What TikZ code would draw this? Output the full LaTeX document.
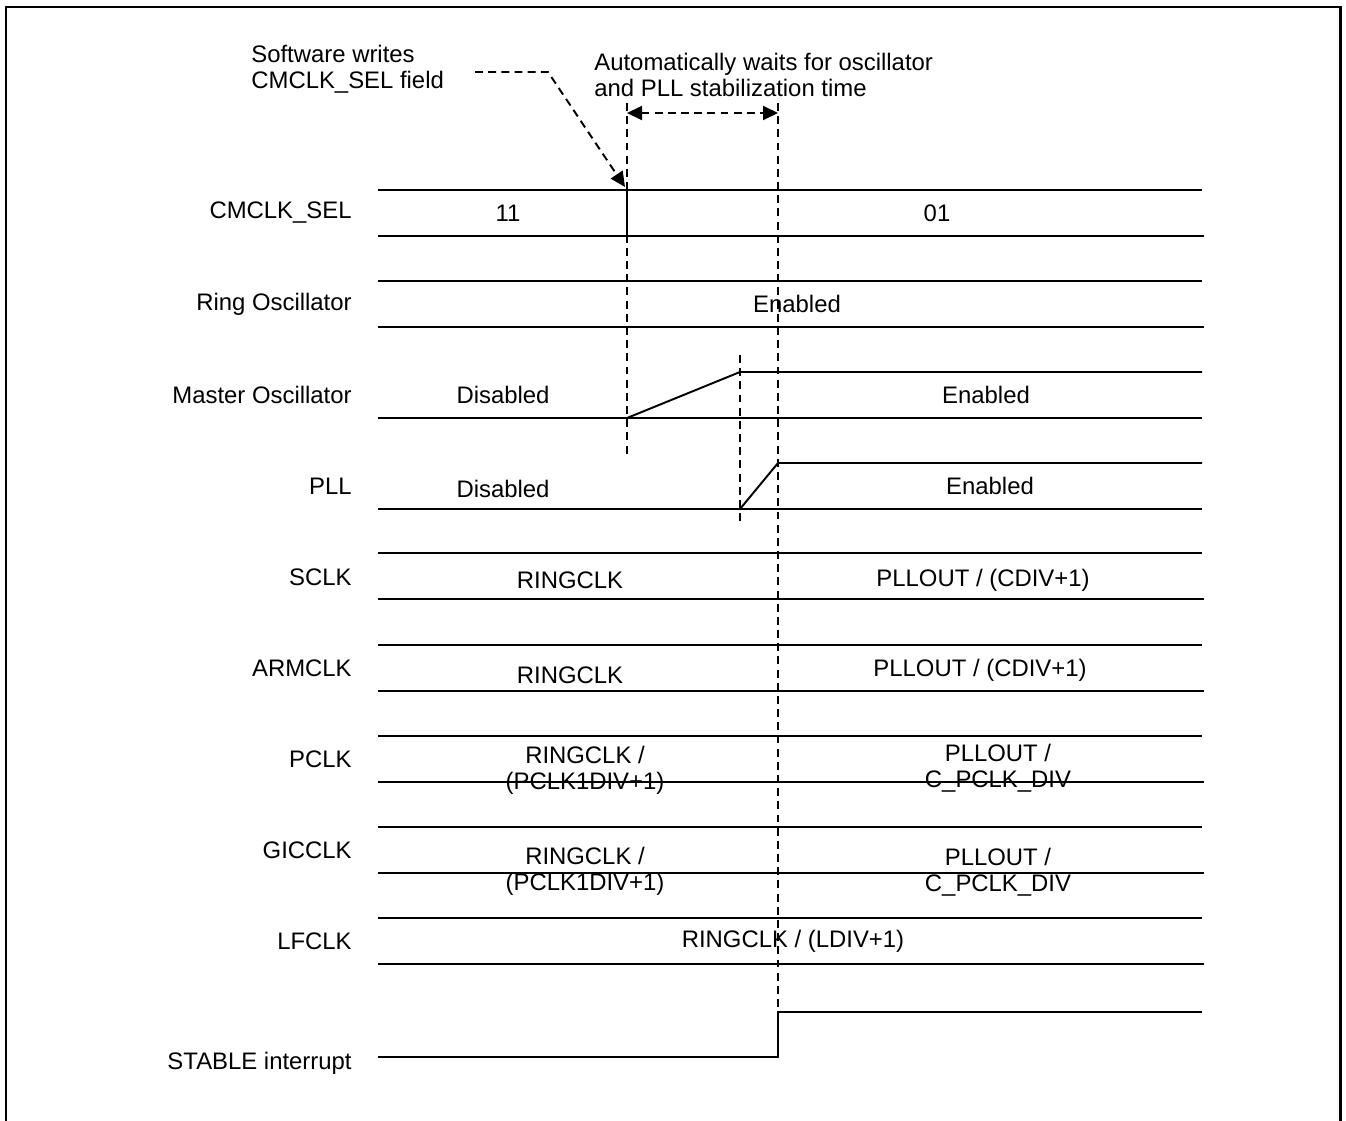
\documentclass[tikz,border=0pt]{standalone}
\usepackage{fontspec}
\setmainfont{Liberation Sans}
\usetikzlibrary{arrows.meta}

\begin{document}
\begin{tikzpicture}[
  x=0.02cm,y=-0.02cm,
  font=\fontsize{13.6}{14.7}\selectfont,
  sig/.style={line width=1.1pt},
  guide/.style={line width=1.1pt,dash pattern=on 4.5pt off 3pt},
  frame/.style={line width=1.7pt},
  lbl/.style={anchor=east,inner sep=0pt},
  val/.style={inner sep=0pt,align=center},
  tip/.style={-{Triangle[length=3mm,width=2.8mm]}},
]
\useasboundingbox (0,0) rectangle (1346,1120);
\draw[frame] (6,1125) -- (6,7) -- (1340,7) -- (1340,1125);

% notes at the top
\node[val,anchor=west,align=left] (swnote) at (251,69) {Software writes\\CMCLK\_SEL field};
\node[val,anchor=west,align=left] (waitnote) at (594,75) {Automatically waits for oscillator\\and PLL stabilization time};

% signal names
\foreach \n/\y/\t in {sel/213/CMCLK\_SEL,ring/304/Ring Oscillator,mosc/395/Master Oscillator,
    pll/486/PLL,sclk/577/SCLK,arm/668/ARMCLK,pclk/759/PCLK,gic/850/GICCLK,lf/941/LFCLK,
    stable/1063/STABLE interrupt}
  \node[lbl] (l\n) at (352,\y) {\t};

% bus rows
\foreach \t in {190,281,553,645,736,827,918}
  \draw[sig] (378,\t) -- (1202,\t) (378,\t+46) -- (1204,\t+46);
\draw[sig] (627,190) -- (627,236);

% master oscillator and PLL
\draw[sig] (378,418) -- (1202,418);
\draw[sig] (627,418) -- (740,372) -- (1202,372);
\draw[sig] (378,509) -- (1202,509);
\draw[sig] (740,509) -- (778,463) -- (1202,463);

% stable interrupt
\draw[sig] (378,1057) -- (778,1057) -- (778,1012) -- (1202,1012);

% values
\node[val] (v11) at (508,213) {11};
\node[val] (v01) at (937,213) {01};
\node[val] (ringon) at (797,304) {Enabled};
\node[val] (moscoff) at (503,395) {Disabled};
\node[val] (moscon) at (986,395) {Enabled};
\node[val] (plloff) at (503,489) {Disabled};
\node[val] (pllon) at (990,486) {Enabled};
\node[val] (sclka) at (570,580) {RINGCLK};
\node[val] (sclkb) at (983,580) {PLLOUT / (CDIV+1)};
\node[val] (arma) at (570,675) {RINGCLK};
\node[val] (armb) at (980,670) {PLLOUT / (CDIV+1)};
\node[val] (pclka) at (585,770) {RINGCLK /\\(PCLK1DIV+1)};
\node[val] (pclkb) at (998,768) {PLLOUT /\\C\_PCLK\_DIV};
\node[val] (gica) at (585,871) {RINGCLK /\\(PCLK1DIV+1)};
\node[val] (gicb) at (998,872) {PLLOUT /\\C\_PCLK\_DIV};
\node[val] (lfval) at (793,941) {RINGCLK / (LDIV+1)};

% time marks
\coordinate (wtop) at (627,103);
\coordinate (wbot) at (627,455);
\coordinate (stop) at (778,103);
\coordinate (sbot) at (778,1012);
\coordinate (ptop) at (740,355);
\coordinate (pbot) at (740,525);
\draw[guide] (wtop) -- (wbot);
\draw[guide] (stop) -- (sbot);
\draw[guide] (ptop) -- (pbot);

\coordinate (wl) at (627,113);
\coordinate (wr) at (778,113);
\draw[guide,{Triangle[length=3mm,width=2.8mm]}-{Triangle[length=3mm,width=2.8mm]}] (wl) -- (wr);

\coordinate (lead) at (475,72);
\coordinate (bend) at (548,72);
\coordinate (hit) at (625,187);
\draw[guide,tip] (lead) -- (bend) -- (hit);
\end{tikzpicture}
\end{document}
